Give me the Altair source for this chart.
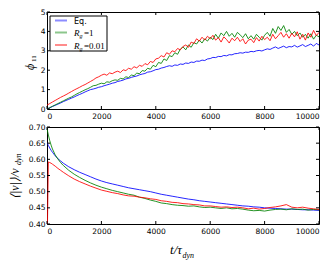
import altair as alt
import pandas as pd

# ---------------- data ----------------
t_top = list(range(0, 10001, 100))

phi_eq = [0.00, 0.06, 0.13, 0.19, 0.25, 0.31, 0.38, 0.44, 0.50, 0.56, 0.62, 0.69, 0.75, 0.81, 0.88, 0.94, 1.00,
          1.03, 1.07, 1.12, 1.15, 1.20, 1.24, 1.28, 1.33, 1.36, 1.42, 1.45, 1.49, 1.55, 1.58, 1.63, 1.67, 1.70,
          1.76, 1.80, 1.83, 1.90, 1.92, 1.97, 2.03, 2.05, 2.11, 2.14, 2.19, 2.23,
          2.20, 2.27, 2.25, 2.32, 2.30, 2.37, 2.35, 2.42, 2.40, 2.47, 2.46, 2.52, 2.50, 2.58, 2.60,
          2.66, 2.65, 2.71, 2.70, 2.76, 2.74, 2.80, 2.79, 2.85, 2.86, 2.90, 2.88, 2.93, 2.92, 2.97, 2.95,
          3.00, 3.02, 2.99, 3.05,
          3.10, 3.07, 3.14, 3.20, 3.12, 3.18, 3.24, 3.16, 3.22, 3.20, 3.28, 3.19, 3.25, 3.32, 3.22, 3.28,
          3.35, 3.24, 3.38, 3.30]

phi_rg1 = [0.00, 0.07, 0.14, 0.21, 0.28, 0.35, 0.42, 0.49, 0.56, 0.62, 0.70, 0.78, 0.85, 0.92, 0.99, 1.05, 1.12,
           1.20, 1.22, 1.28, 1.33, 1.30, 1.40, 1.38, 1.46, 1.50,
           1.48, 1.58, 1.55, 1.66, 1.62, 1.75, 1.72, 1.85, 1.82, 1.98,
           1.95, 2.10, 2.05, 2.25, 2.18, 2.40, 2.35, 2.58, 2.50, 2.75,
           2.70, 2.90, 2.82, 3.08, 3.20, 3.05, 3.30, 3.18, 3.42, 3.35,
           3.55, 3.40, 3.62, 3.50, 3.70, 3.58, 3.85, 3.65, 3.92, 3.78,
           4.00, 3.75, 3.90, 3.70, 3.95, 3.82, 3.68, 3.88, 3.62, 3.78,
           3.60, 3.85, 3.70, 3.55, 3.80, 3.95, 3.75, 4.15, 3.90, 4.25,
           4.05, 4.30, 3.95, 4.10, 3.85, 4.00, 3.78, 3.92, 3.70, 3.85,
           3.65, 3.88, 3.60, 3.80, 3.72]

phi_rg001 = [0.20, 0.28, 0.36, 0.44, 0.52, 0.60, 0.67, 0.74, 0.82, 0.90, 0.98,
             1.05, 1.12, 1.20, 1.26, 1.34, 1.42, 1.50, 1.60, 1.66, 1.74,
             1.80, 1.74, 1.86, 1.82, 1.90, 1.95, 1.88, 2.02, 1.98, 2.10,
             2.05, 2.18, 2.12, 2.25, 2.20, 2.34, 2.28, 2.45, 2.40, 2.58,
             2.62, 2.75, 2.68, 2.90, 2.82, 3.00, 2.95, 3.12, 3.05, 3.22,
             3.30, 3.18, 3.45, 3.38, 3.62, 3.50, 3.70, 3.55, 3.75, 3.62,
             3.80, 3.55, 3.68, 3.45, 3.72, 3.58, 3.40, 3.65, 3.52, 3.70,
             3.48, 3.62, 3.35, 3.55, 3.60, 3.42, 3.68, 3.50, 3.75, 3.58,
             3.70, 3.52, 3.85, 3.62, 3.78, 3.95, 3.70, 3.88, 3.65, 3.90,
             3.72, 3.98, 3.60, 3.85, 3.55, 3.92, 3.70, 4.05, 3.78, 3.95]

t_bot = [0, 50, 100, 150, 200, 300, 400, 500, 600, 800] + list(range(1000, 10001, 200))

v_eq = [0.652, 0.643, 0.635, 0.628, 0.622, 0.611, 0.602, 0.595, 0.588, 0.577,
        0.568, 0.560, 0.553, 0.546, 0.539, 0.533, 0.528, 0.524, 0.520, 0.516,
        0.512, 0.509, 0.506, 0.503, 0.500, 0.496, 0.492, 0.489, 0.486, 0.483,
        0.480, 0.477, 0.475, 0.472, 0.470, 0.468, 0.466, 0.464, 0.462, 0.460,
        0.458, 0.456, 0.455, 0.453, 0.452, 0.450, 0.449, 0.448, 0.447, 0.446,
        0.446, 0.445, 0.444, 0.444, 0.443, 0.442]

v_rg1 = [0.695, 0.675, 0.658, 0.644, 0.632, 0.614, 0.601, 0.590, 0.581, 0.566,
         0.554, 0.544, 0.535, 0.527, 0.520, 0.514, 0.509, 0.504, 0.500, 0.496,
         0.492, 0.489, 0.483, 0.479, 0.474, 0.470, 0.465, 0.463, 0.460, 0.458,
         0.457, 0.455, 0.456, 0.453, 0.451, 0.452, 0.450, 0.448, 0.450, 0.447,
         0.448, 0.446, 0.443, 0.441, 0.442, 0.440, 0.443, 0.445, 0.446, 0.444,
         0.447, 0.445, 0.446, 0.443, 0.445, 0.444]

v_rg001 = [0.300, 0.592, 0.590, 0.588, 0.585, 0.579, 0.572, 0.566, 0.560, 0.549,
           0.539, 0.531, 0.524, 0.517, 0.511, 0.505, 0.501, 0.497, 0.494, 0.490,
           0.487, 0.486, 0.483, 0.481, 0.478, 0.476, 0.472, 0.470, 0.467, 0.466,
           0.463, 0.462, 0.460, 0.459, 0.456, 0.456, 0.454, 0.452, 0.453, 0.451,
           0.452, 0.450, 0.447, 0.449, 0.446, 0.448, 0.451, 0.453, 0.456, 0.460,
           0.452, 0.450, 0.452, 0.449, 0.447, 0.445]

x_ticks = [0, 2000, 4000, 6000, 8000, 10000]
top_ticks = [0, 1, 2, 3, 4, 5]
bot_ticks = [0.40, 0.45, 0.50, 0.55, 0.60, 0.65, 0.70]

series_colors = ["#0000ff", "#008000", "#ff0000"]

# ---------------- layout ----------------
W, H = 272, 97
TICK = 3
SANS = "DejaVu Sans"
SERIF = "Liberation Serif"

dummy = pd.DataFrame({"a": [0]})


def txt(s, x, y, size, font=SERIF, style="italic", angle=0, align="left", baseline="alphabetic"):
    return alt.Chart(dummy).mark_text(
        text=s, fontSize=size, font=font, fontStyle=style, angle=angle,
        align=align, baseline=baseline, color="black"
    ).encode(x=alt.value(x), y=alt.value(y))


def panel(t, series, ydomain, yticks, yfmt):
    xs = alt.Scale(domain=[0, 10000], nice=False, zero=False)
    ys = alt.Scale(domain=ydomain, nice=False, zero=False)
    xax = alt.Axis(values=x_ticks, format="d", labelPadding=3)
    yax = alt.Axis(values=yticks, format=yfmt, labelPadding=2)
    layers = []
    for vals, col in zip(series, series_colors):
        df = pd.DataFrame({"t": t, "v": vals})
        layers.append(
            alt.Chart(df).mark_line(color=col, strokeWidth=1, opacity=0.85, clip=True).encode(
                x=alt.X("t:Q", scale=xs, axis=xax),
                y=alt.Y("v:Q", scale=ys, axis=yax),
            )
        )
    xt = pd.DataFrame({"t": x_ticks})
    yt = pd.DataFrame({"v": yticks})
    tick_style = dict(color="black", strokeWidth=1)
    layers.append(alt.Chart(xt).mark_rule(**tick_style).encode(
        x=alt.X("t:Q", scale=xs, axis=xax), y=alt.value(H), y2=alt.value(H - TICK)))
    layers.append(alt.Chart(xt).mark_rule(**tick_style).encode(
        x=alt.X("t:Q", scale=xs, axis=xax), y=alt.value(0), y2=alt.value(TICK)))
    layers.append(alt.Chart(yt).mark_rule(**tick_style).encode(
        y=alt.Y("v:Q", scale=ys, axis=yax), x=alt.value(0), x2=alt.value(TICK)))
    layers.append(alt.Chart(yt).mark_rule(**tick_style).encode(
        y=alt.Y("v:Q", scale=ys, axis=yax), x=alt.value(W), x2=alt.value(W - TICK)))
    return layers


# top panel
top_layers = panel(t_top, [phi_eq, phi_rg1, phi_rg001], [0, 5], top_ticks, "d")

# legend box
top_layers.append(alt.Chart(dummy).mark_rect(fill="white", stroke="black", strokeWidth=1).encode(
    x=alt.value(3), x2=alt.value(60), y=alt.value(4), y2=alt.value(39)))
for row_y, col in zip([8.5, 20.5, 33], series_colors):
    top_layers.append(alt.Chart(dummy).mark_rule(color=col, strokeWidth=2, opacity=0.45).encode(
        x=alt.value(8), x2=alt.value(20), y=alt.value(row_y)))
top_layers.append(txt("Eq.", 27, 11.5, 8, font=SANS, style="normal"))
top_layers.append(txt("R", 27, 24, 9))
top_layers.append(txt("g", 32.5, 26, 6))
top_layers.append(txt("=1", 37, 24, 9, style="normal"))
top_layers.append(txt("R", 27, 36.5, 9))
top_layers.append(txt("g", 32.5, 38.5, 6))
top_layers.append(txt("=0.01", 37, 36.5, 9, style="normal"))

# top y title
top_layers.append(txt("ϕ", -13.5, 58, 12, angle=270))
top_layers.append(txt("11", -11.3, 50, 7, style="normal", angle=270))

top = alt.layer(*top_layers).properties(width=W, height=H)

# bottom panel
bot_layers = panel(t_bot, [v_eq, v_rg1, v_rg001], [0.40, 0.70], bot_ticks, ".2f")
bot_layers.append(txt("⟨|v|⟩/v", -28, 72, 12, angle=270))
bot_layers.append(txt("dyn", -26, 38, 8, angle=270))
bot_layers.append(txt("t/τ", 135, H + 30, 13, align="right"))
bot_layers.append(txt("dyn", 135.5, H + 34, 8))

bottom = alt.layer(*bot_layers).properties(width=W, height=H)

chart = alt.vconcat(top, bottom, spacing=2).properties(
    padding={"left": 0, "top": -1, "right": 0, "bottom": 0}
).configure_view(
    stroke="black", strokeWidth=1
).configure_axis(
    labelFont=SANS, labelFontSize=7.5, labelColor="black", tickSize=0,
    domain=False, grid=False, title=None
)

chart.save("out.html", embed_options={"renderer": "svg", "actions": False})
